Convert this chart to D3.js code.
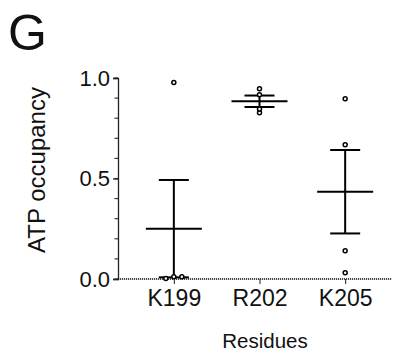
<!DOCTYPE html>
<html>
<head>
<meta charset="utf-8">
<script src="https://cdn.jsdelivr.net/npm/d3@7"></script>
<style>
  body { margin: 0; background: #fff; }
  svg { display: block; font-family: "Liberation Sans", Arial, Helvetica, sans-serif; }
</style>
</head>
<body>
<svg id="chart"></svg>
<script>
// размеры
const width = 394;
const height = 359;

// данные
const residues = ["K199", "R202", "K205"];
const occK199 = [0.977, 0.003, 0.011, 0.011];
const occR202 = [0.947, 0.917, 0.846, 0.827];
const occK205 = [0.897, 0.668, 0.141, 0.031];
const yTicks = [0.0, 0.5, 1.0];
const yMinorTicks = d3.range(0, 1.0001, 0.1);

const groups = [occK199, occR202, occK205];

const svg = d3.select("#chart")
  .attr("width", width)
  .attr("height", height);

const x = d3.scalePoint()
  .domain(residues)
  .range([131, 388])
  .padding(0.5);

const y = d3.scaleLinear()
  .domain([0, 1])
  .range([279, 78]);

const axisLeft = 118;

// панель "G"
svg.append("text")
  .attr("x", 8)
  .attr("y", 50)
  .attr("font-size", 50)
  .attr("fill", "#111")
  .text("G");

// ось Y: малые деления
svg.append("g")
  .selectAll("line")
  .data(yMinorTicks)
  .join("line")
  .attr("x1", axisLeft - 3.5)
  .attr("x2", axisLeft)
  .attr("y1", d => y(d))
  .attr("y2", d => y(d))
  .attr("stroke", "#222")
  .attr("stroke-width", 1.1);

// ось Y: основные деления и подписи
const yAxis = svg.append("g")
  .attr("transform", `translate(${axisLeft},0)`)
  .call(d3.axisLeft(y).tickValues(yTicks).tickFormat(d3.format(".1f")).tickSize(5).tickPadding(3));
yAxis.select(".domain").attr("stroke", "#222").attr("stroke-width", 1.3);
yAxis.selectAll(".tick line").attr("stroke", "#222").attr("stroke-width", 1.3);
yAxis.selectAll(".tick text")
  .attr("font-size", 22)
  .attr("font-family", "Liberation Sans, Arial, sans-serif")
  .attr("fill", "#111");

// ось X: пунктирная базовая линия
svg.append("line")
  .attr("x1", axisLeft)
  .attr("x2", 392)
  .attr("y1", y(0))
  .attr("y2", y(0))
  .attr("stroke", "#111")
  .attr("stroke-width", 1.5)
  .attr("stroke-dasharray", "1.2,0.8");

// деления и подписи категорий
const xAxis = svg.append("g")
  .attr("transform", `translate(0,${y(0)})`)
  .call(d3.axisBottom(x).tickSize(5).tickPadding(6));
xAxis.select(".domain").remove();
xAxis.selectAll(".tick line").attr("stroke", "#222").attr("stroke-width", 1);
xAxis.selectAll(".tick text")
  .attr("font-size", 23)
  .attr("font-family", "Liberation Sans, Arial, sans-serif")
  .attr("fill", "#111");

// подписи осей
svg.append("text")
  .attr("transform", "translate(45,170) rotate(-90)")
  .attr("text-anchor", "middle")
  .attr("font-size", 24)
  .attr("fill", "#111")
  .text("ATP occupancy");

svg.append("text")
  .attr("x", 265)
  .attr("y", 348)
  .attr("text-anchor", "middle")
  .attr("font-size", 20.5)
  .attr("fill", "#111")
  .text("Residues");

// среднее ± SEM
const stats = groups.map((vals, i) => {
  const m = d3.mean(vals);
  const sem = d3.deviation(vals) / Math.sqrt(vals.length);
  return { name: residues[i], mean: m, lo: m - sem, hi: m + sem };
});

const meanHalf = 28;
const capHalf = 15;
const err = svg.append("g")
  .attr("stroke", "#000")
  .attr("stroke-width", 2);

err.selectAll("line.v")
  .data(stats)
  .join("line")
  .attr("class", "v")
  .attr("x1", d => x(d.name))
  .attr("x2", d => x(d.name))
  .attr("y1", d => y(d.lo))
  .attr("y2", d => y(d.hi));

err.selectAll("line.m")
  .data(stats)
  .join("line")
  .attr("class", "m")
  .attr("x1", d => x(d.name) - meanHalf)
  .attr("x2", d => x(d.name) + meanHalf)
  .attr("y1", d => y(d.mean))
  .attr("y2", d => y(d.mean));

err.selectAll("line.cap")
  .data(stats.flatMap(d => [{ name: d.name, v: d.lo }, { name: d.name, v: d.hi }]))
  .join("line")
  .attr("class", "cap")
  .attr("x1", d => x(d.name) - capHalf)
  .attr("x2", d => x(d.name) + capHalf)
  .attr("y1", d => y(d.v))
  .attr("y2", d => y(d.v));

// точки: близкие значения разводим по горизонтали
const spread = 8;
const points = [];
groups.forEach((vals, i) => {
  const sorted = vals.slice().sort(d3.ascending);
  let cluster = [];
  const flush = () => {
    cluster.forEach((v, k) => {
      points.push({ name: residues[i], v: v, dx: (k - (cluster.length - 1) / 2) * spread });
    });
    cluster = [];
  };
  sorted.forEach(v => {
    if (cluster.length && Math.abs(y(v) - y(cluster[cluster.length - 1])) > 3) flush();
    cluster.push(v);
  });
  flush();
});

svg.append("g")
  .selectAll("circle")
  .data(points)
  .join("circle")
  .attr("cx", d => x(d.name) + d.dx)
  .attr("cy", d => y(d.v))
  .attr("r", 2)
  .attr("fill", "#fff")
  .attr("stroke", "#000")
  .attr("stroke-width", 1.5);
</script>
</body>
</html>
